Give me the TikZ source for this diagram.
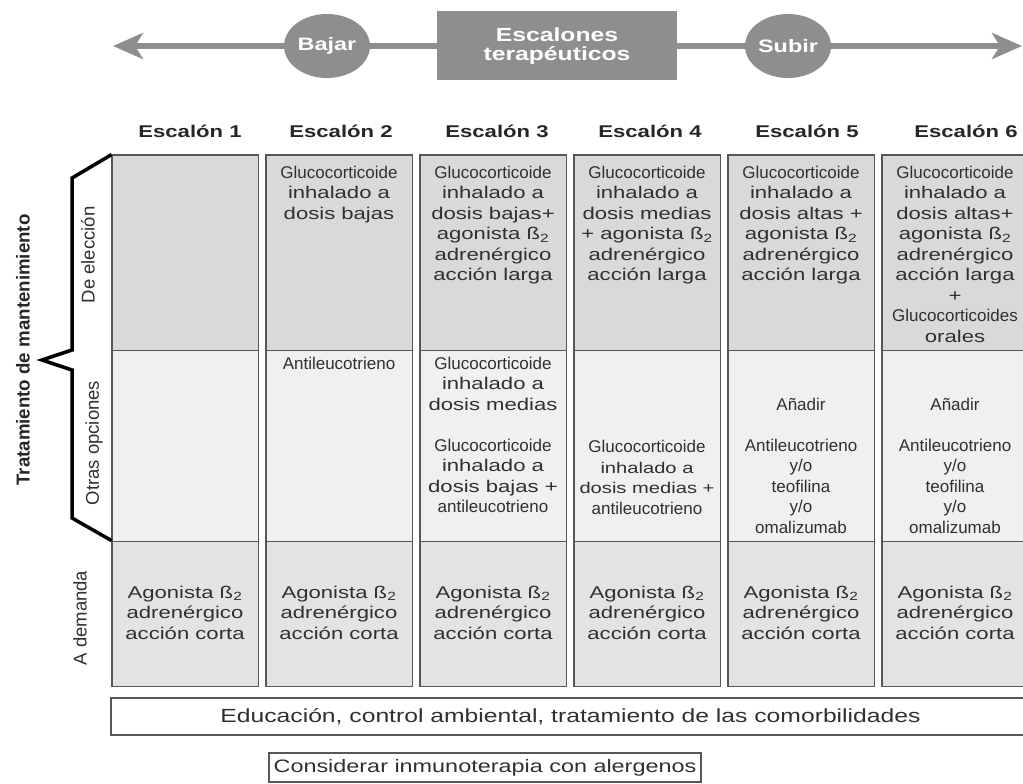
\documentclass[tikz,border=0pt]{standalone}
\usepackage{fontspec}
\setmainfont{Liberation Sans}
\newfontfamily\anchafont[FakeStretch=1.3]{Liberation Sans}
\newfontfamily\estrechafont{Liberation Sans}
\usepackage{tikz}
\usetikzlibrary{arrows.meta,shapes}
\definecolor{grisflecha}{HTML}{8E8E8E}
\definecolor{grisA}{HTML}{D9D9D9}
\definecolor{grisB}{HTML}{F0F0F0}
\definecolor{grisC}{HTML}{E3E3E3}
\definecolor{borde}{HTML}{575757}
\definecolor{letra}{HTML}{303030}
\newcommand{\betados}{ß\textsubscript{2}}
\newcommand{\gl}{\estrechafont}
\newcommand{\tam}{\fontsize{17}{20.5}\selectfont}

\begin{document}
\begin{tikzpicture}[x=1pt,y=-1pt,
  celda/.style={minimum width=146pt,inner sep=0pt,draw=borde,line width=0.8pt},
  texto/.style={anchor=north,align=center,inner sep=0pt,text=letra,font=\anchafont\tam},
  cabecera/.style={anchor=base,inner sep=0pt,text=black!85,font=\anchafont\bfseries\fontsize{17}{20}\selectfont},
  marco/.style={draw=borde,line width=1.6pt},
  fila/.style={rotate=90,inner sep=0pt,text=letra,font=\fontsize{18.5}{20}\selectfont},
  etapa/.style={ellipse,fill=grisflecha,minimum width=86pt,minimum height=64pt,inner sep=0pt,text=white,font=\anchafont\bfseries\fontsize{18}{19}\selectfont},
  flecha/.style={draw=grisflecha,line width=6.5pt}]

\useasboundingbox[fill=white] (0,0) rectangle (1023,784);

\node (bajar) at (327,46)[etapa] {Bajar};
\node (escalones) at (557,46)[rectangle,fill=grisflecha,minimum width=240pt,minimum height=69pt,inner sep=0pt,align=center,text=white,font=\anchafont\bfseries\fontsize{19}{19}\selectfont] {Escalones\\terapéuticos};
\node (subir) at (788,46)[etapa] {Subir};
\coordinate (izq) at (113,46);
\coordinate (der) at (1022,46);
\draw [flecha,-{Stealth[length=30pt,width=26pt,inset=8pt]}] (bajar) -- (izq);
\draw [flecha] (bajar) -- (escalones);
\draw [flecha] (escalones) -- (subir);
\draw [flecha,-{Stealth[length=30pt,width=26pt,inset=8pt]}] (subir) -- (der);

\node (H1) at (190,137)[cabecera] {Escalón 1};
\node (H2) at (341,137)[cabecera] {Escalón 2};
\node (H3) at (497,137)[cabecera] {Escalón 3};
\node (H4) at (650,137)[cabecera] {Escalón 4};
\node (H5) at (807,137)[cabecera] {Escalón 5};
\node (H6) at (966,137)[cabecera] {Escalón 6};

\node (E1a) at (185,252.5)[celda,minimum height=195pt,fill=grisA] {};
\node (E1b) at (185,445.5)[celda,minimum height=191pt,fill=grisB] {};
\node (E1c) at (185,613.5)[celda,minimum height=145pt,fill=grisC] {};
\node (E2a) at (339,252.5)[celda,minimum height=195pt,fill=grisA] {};
\node (E2b) at (339,445.5)[celda,minimum height=191pt,fill=grisB] {};
\node (E2c) at (339,613.5)[celda,minimum height=145pt,fill=grisC] {};
\node (E3a) at (493,252.5)[celda,minimum height=195pt,fill=grisA] {};
\node (E3b) at (493,445.5)[celda,minimum height=191pt,fill=grisB] {};
\node (E3c) at (493,613.5)[celda,minimum height=145pt,fill=grisC] {};
\node (E4a) at (647,252.5)[celda,minimum height=195pt,fill=grisA] {};
\node (E4b) at (647,445.5)[celda,minimum height=191pt,fill=grisB] {};
\node (E4c) at (647,613.5)[celda,minimum height=145pt,fill=grisC] {};
\node (E5a) at (801,252.5)[celda,minimum height=195pt,fill=grisA] {};
\node (E5b) at (801,445.5)[celda,minimum height=191pt,fill=grisB] {};
\node (E5c) at (801,613.5)[celda,minimum height=145pt,fill=grisC] {};
\node (E6a) at (955,252.5)[celda,minimum height=195pt,fill=grisA] {};
\node (E6b) at (955,445.5)[celda,minimum height=191pt,fill=grisB] {};
\node (E6c) at (955,613.5)[celda,minimum height=145pt,fill=grisC] {};
\draw [marco] (E1a.north west) rectangle (E1c.south east);
\draw [marco] (E2a.north west) rectangle (E2c.south east);
\draw [marco] (E3a.north west) rectangle (E3c.south east);
\draw [marco] (E4a.north west) rectangle (E4c.south east);
\draw [marco] (E5a.north west) rectangle (E5c.south east);
\draw [marco] (E6a.north west) rectangle (E6c.south east);

\node (T2a) at (339,165.6)[texto] {{\gl Glucocorticoide}\\inhalado a\\dosis bajas};
\node (T3a) at (493,165.6)[texto] {{\gl Glucocorticoide}\\inhalado a\\dosis bajas+\\agonista \betados\\adrenérgico\\acción larga};
\node (T4a) at (647,165.6)[texto] {{\gl Glucocorticoide}\\inhalado a\\dosis medias\\+ agonista \betados\\adrenérgico\\acción larga};
\node (T5a) at (801,165.6)[texto] {{\gl Glucocorticoide}\\inhalado a\\dosis altas +\\agonista \betados\\adrenérgico\\acción larga};
\node (T6a) at (955,165.6)[texto] {{\gl Glucocorticoide}\\inhalado a\\dosis altas+\\agonista \betados\\adrenérgico\\acción larga\\+\\{\gl Glucocorticoides}\\orales};

\node (T2b) at (339,356.6)[texto] {{\gl Antileucotrieno}};
\node (T3b) at (493,356.6)[texto] {{\gl Glucocorticoide}\\inhalado a\\dosis medias\\[20.5pt]{\gl Glucocorticoide}\\inhalado a\\dosis bajas +\\{\gl antileucotrieno}};
\node (T4b) at (647,440)[texto,font=\anchafont\fontsize{15.5}{20.5}\selectfont] {{\gl\fontsize{17}{20.5}\selectfont Glucocorticoide}\\inhalado a\\dosis medias +\\{\gl\fontsize{17}{20.5}\selectfont antileucotrieno}};
\node (T5b) at (801,397.8)[texto,font=\gl\tam] {Añadir\\[20.5pt]Antileucotrieno\\y/o\\teofilina\\y/o\\omalizumab};
\node (T6b) at (955,397.8)[texto,font=\gl\tam] {Añadir\\[20.5pt]Antileucotrieno\\y/o\\teofilina\\y/o\\omalizumab};

\node (T1c) at (185,585.6)[texto] {Agonista \betados\\adrenérgico\\acción corta};
\node (T2c) at (339,585.6)[texto] {Agonista \betados\\adrenérgico\\acción corta};
\node (T3c) at (493,585.6)[texto] {Agonista \betados\\adrenérgico\\acción corta};
\node (T4c) at (647,585.6)[texto] {Agonista \betados\\adrenérgico\\acción corta};
\node (T5c) at (801,585.6)[texto] {Agonista \betados\\adrenérgico\\acción corta};
\node (T6c) at (955,585.6)[texto] {Agonista \betados\\adrenérgico\\acción corta};

\node (trat) at (23,350)[rotate=90,inner sep=0pt,text=black!85,font=\bfseries\fontsize{18.7}{20}\selectfont] {Tratamiento de mantenimiento};
\node (elec) at (88,255)[fila] {De elección};
\node (otras) at (94,443)[fila] {Otras opciones};
\node (dem) at (80,618)[fila] {A demanda};
\draw [line width=3.5pt,line join=miter] (E1a.north west) -- (72,178) -- (72,350) -- (42,360) -- (72,370) -- (72,518) -- (E1c.north west);

\node (educ) at (570.5,716.5)[draw=borde,line width=1.4pt,fill=white,minimum width=919pt,minimum height=37pt,inner sep=0pt,text=letra,font=\anchafont\fontsize{19}{20}\selectfont] {Educación, control ambiental, tratamiento de las comorbilidades};
\node (inmuno) at (485,767.5)[draw=borde,line width=1.4pt,fill=white,minimum width=432pt,minimum height=29pt,inner sep=0pt,text=letra,font=\anchafont\fontsize{18}{20}\selectfont] {Considerar inmunoterapia con alergenos};
\end{tikzpicture}
\end{document}
